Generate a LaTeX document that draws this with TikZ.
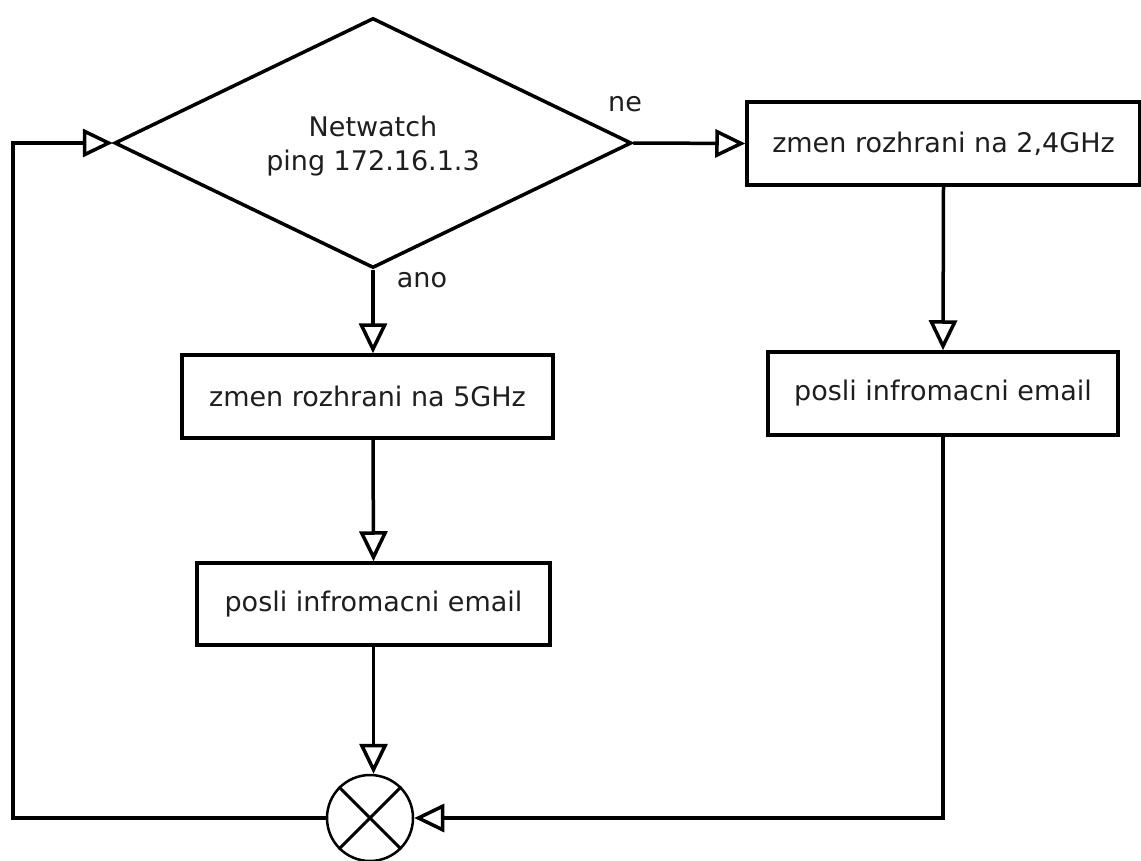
\documentclass[tikz,border=0pt]{standalone}
\usepackage{fontspec}
\setmainfont{DejaVu Sans}
\usetikzlibrary{shapes.geometric,arrows.meta}
\definecolor{txt}{RGB}{30,30,30}
\begin{document}
\begin{tikzpicture}[x=1pt,y=-1pt,
  font=\fontsize{27}{34}\selectfont,
  every node/.append style={text=txt},
  conn/.style={line width=3.5pt},
  arr/.style={conn,-{Triangle[open,length=30pt,width=28pt,line width=3.5pt]}},
  box/.style={draw,line width=3.5pt,rectangle,inner sep=0pt,align=center},
  dec/.style={draw,line width=3.5pt,diamond,inner sep=0pt,aspect=2,minimum width=517pt,minimum height=250pt},
  junc/.style={draw,line width=2.5pt,circle,minimum size=86pt,inner sep=0pt},
  lbl/.style={inner sep=0pt,align=center}]
\useasboundingbox (0,0) rectangle (1141,861);
\node[dec] (d) at (373,143) {};
\node[lbl] (dt) at (373,146) {Netwatch\\ping 172.16.1.3};
\node[box,minimum width=393pt,minimum height=83pt] (b1) at (943.5,143.5) {zmen rozhrani na 2,4GHz};
\node[box,minimum width=350pt,minimum height=83pt] (b2) at (943,393.5) {posli infromacni email};
\node[box,minimum width=371pt,minimum height=83pt] (b3) at (367.5,396.5) {zmen rozhrani na 5GHz};
\node[box,minimum width=353pt,minimum height=82pt] (b4) at (373.5,604) {posli infromacni email};
\node[junc] (c) at (370,818) {};
\draw[line width=3pt] (c.north west) -- (c.south east) (c.north east) -- (c.south west);
\node[lbl] (ne) at (625,104) {ne};
\node[lbl] (ano) at (422,280) {ano};
\coordinate (lb) at (13,818);
\coordinate (lt) at (13,143);
\coordinate (rb) at (943,818);
\draw[arr] (d.east) -- (b1.west);
\draw[arr] (d.south) -- (d.south |- b3.north);
\draw[arr] (b1.south) -- (b2.north);
\draw[arr] (b3.south -| d.south) -- (b4.north);
\draw[arr] (b4.south) -- (b4.south |- c.north);
\draw[arr] (b2.south) -- (rb) -- (c.east);
\draw[arr] (c.west) -- (lb) -- (lt) -- (d.west);
\end{tikzpicture}
\end{document}
